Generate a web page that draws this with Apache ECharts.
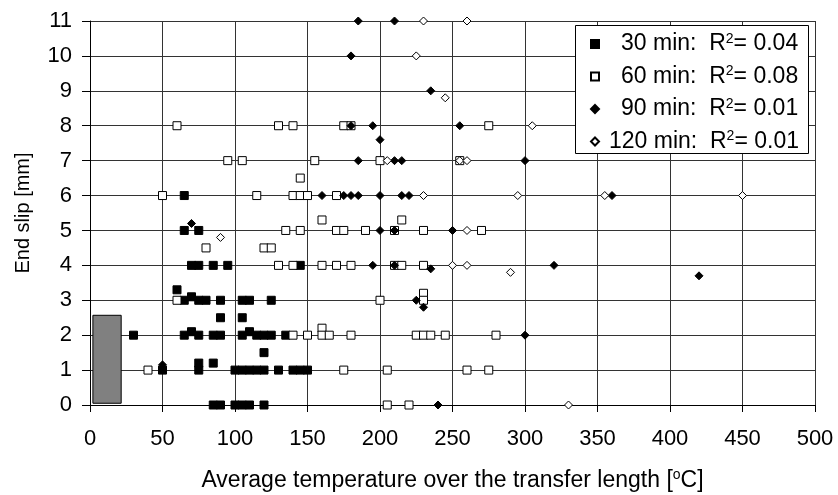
<!DOCTYPE html>
<html>
<head>
<meta charset="utf-8">
<script src="https://cdn.jsdelivr.net/npm/echarts@6/dist/echarts.min.js"></script>
<style>
  html, body { margin: 0; padding: 0; background: #fff; }
  #chart { width: 838px; height: 495px; }
</style>
</head>
<body>
<div id="chart"></div>
<script>
// Axis ranges and tick spacing
const xMin = 0, xMax = 500, xStep = 50;
const yMin = 0, yMax = 11, yStep = 1;

// Series labels and their coefficients of determination
const seriesNames = ['30 min', '60 min', '90 min', '120 min'];
const rSquared = ['0.04', '0.08', '0.01', '0.01'];

// End slip [mm] against average temperature [°C], one list per exposure time
const slip30 = [
  [60, 3.3], [65, 6], [65, 5], [75, 5],
  [70, 4], [75, 4], [85, 4], [95, 4], [145, 4],
  [65, 3], [70, 3.1], [75, 3], [80, 3], [90, 3], [105, 3], [110, 3], [125, 3],
  [90, 2.5], [105, 2.5],
  [30, 2], [65, 2], [70, 2.1], [75, 2], [85, 2], [90, 2], [105, 2], [110, 2.1],
  [115, 2], [120, 2], [125, 2], [135, 2],
  [120, 1.5], [75, 1.2], [85, 1.2],
  [50, 1], [75, 1], [100, 1], [105, 1], [110, 1], [115, 1], [120, 1], [130, 1],
  [140, 1], [145, 1], [150, 1],
  [85, 0], [90, 0], [100, 0], [105, 0], [110, 0], [120, 0]
];
const slip60 = [
  [60, 8], [130, 8], [140, 8], [175, 8], [180, 8], [275, 8],
  [95, 7], [105, 7], [155, 7], [200, 7], [255, 7],
  [145, 6.5],
  [50, 6], [115, 6], [140, 6], [145, 6], [150, 6], [170, 6],
  [160, 5.3], [215, 5.3],
  [135, 5], [145, 5], [170, 5], [175, 5], [190, 5], [210, 5], [230, 5], [270, 5],
  [80, 4.5], [120, 4.5], [125, 4.5],
  [130, 4], [140, 4], [160, 4], [170, 4], [180, 4], [210, 4], [215, 4], [230, 4],
  [230, 3.2], [60, 3], [200, 3], [230, 3],
  [160, 2.2],
  [140, 2], [150, 2], [160, 2], [165, 2], [180, 2], [225, 2], [230, 2], [235, 2],
  [245, 2], [280, 2],
  [40, 1], [175, 1], [205, 1], [260, 1], [275, 1],
  [205, 0], [220, 0]
];
const slip90 = [
  [185, 11], [210, 11], [180, 10], [235, 9],
  [180, 8], [195, 8], [255, 8], [200, 7.6],
  [185, 7], [210, 7], [215, 7], [300, 7],
  [160, 6], [175, 6], [180, 6], [185, 6], [200, 6], [215, 6], [220, 6], [360, 6],
  [70, 5.2], [200, 5], [210, 5], [250, 5],
  [195, 4], [210, 4], [320, 4], [235, 3.9], [420, 3.7],
  [225, 3], [230, 2.8], [300, 2], [50, 1.15], [240, 0]
];
const slip120 = [
  [230, 11], [260, 11], [225, 10], [245, 8.8], [305, 8],
  [205, 7], [255, 7], [260, 7],
  [230, 6], [295, 6], [355, 6], [450, 6],
  [260, 5], [90, 4.8], [250, 4], [260, 4], [290, 3.8], [330, 0]
];

// Grey reference block: [x from, x to, slip from, slip to]
const referenceBlock = [[2, 21.5, 0.05, 2.57]];

const FONT = 'Liberation Sans, Arial, sans-serif';

const markerStyles = [
  { symbol: 'rect', size: 8, fill: '#000' },
  { symbol: 'rect', size: 8, fill: '#fff' },
  { symbol: 'diamond', size: 8, fill: '#000' },
  { symbol: 'diamond', size: 8, fill: '#fff' }
];
const seriesData = [slip30, slip60, slip90, slip120];

const chart = echarts.init(document.getElementById('chart'), null, { renderer: 'canvas' });

const scatterSeries = seriesNames.map((name, i) => ({
  name: name,
  type: 'scatter',
  data: seriesData[i],
  symbol: markerStyles[i].symbol,
  symbolSize: markerStyles[i].size,
  itemStyle: { color: markerStyles[i].fill, borderColor: '#000', borderWidth: 1, opacity: 1 },
  emphasis: { disabled: true },
  z: 3 + i
}));

const option = {
  animation: false,
  backgroundColor: '#fff',
  textStyle: { fontFamily: FONT },
  grid: { left: 90, right: 23, top: 21, bottom: 90, containLabel: false, outerBoundsMode: 'none' },
  graphic: [{
    type: 'rect',
    shape: { x: 575.5, y: 25.5, width: 233, height: 128 },
    style: { fill: '#fff', stroke: '#000', lineWidth: 1 },
    z: 10
  }],
  legend: {
    data: seriesNames,
    orient: 'vertical',
    left: 590,
    top: 32,
    padding: 0,
    itemGap: 9,
    itemWidth: 8,
    itemHeight: 8,
    z: 20,
    selectedMode: false,
    formatter: name => {
      const i = seriesNames.indexOf(name);
      // shorter names are pushed right so the text lines end flush
      const lead = name.length < 7 ? 'w' : 'n';
      return '{' + lead + '|' + name + ':  R}{s|2}{t|= ' + rSquared[i] + '}';
    },
    textStyle: {
      fontFamily: FONT,
      color: '#000',
      rich: {
        w: { fontFamily: FONT, fontSize: 23, lineHeight: 24, color: '#000', padding: [0, 0, 0, 17] },
        n: { fontFamily: FONT, fontSize: 23, lineHeight: 24, color: '#000', padding: [0, 0, 0, 5] },
        t: { fontFamily: FONT, fontSize: 23, lineHeight: 24, color: '#000' },
        s: { fontFamily: FONT, fontSize: 14, lineHeight: 24, verticalAlign: 'top', color: '#000' }
      }
    }
  },
  xAxis: {
    type: 'value',
    min: xMin, max: xMax, interval: xStep,
    name: 'Average temperature over the transfer length [{s|o}C]',
    nameLocation: 'middle',
    nameGap: 63,
    nameTextStyle: {
      fontFamily: FONT, fontSize: 23, color: '#000', lineHeight: 26,
      rich: { s: { fontFamily: FONT, fontSize: 14, verticalAlign: 'top', lineHeight: 26, color: '#000' } }
    },
    axisLine: { show: true, onZero: false, lineStyle: { color: '#000', width: 1 } },
    axisTick: { show: true, inside: false, length: 7, lineStyle: { color: '#000' } },
    axisLabel: { fontFamily: FONT, fontSize: 22, color: '#000', margin: 23 },
    splitLine: { show: true, lineStyle: { color: '#333', width: 1 } }
  },
  yAxis: {
    type: 'value',
    min: yMin, max: yMax, interval: yStep,
    name: 'End slip [mm]',
    nameLocation: 'middle',
    nameGap: 57,
    nameTextStyle: { fontFamily: FONT, fontSize: 20, color: '#000' },
    axisLine: { show: true, onZero: false, lineStyle: { color: '#000', width: 1 } },
    axisTick: { show: true, inside: false, length: 8, lineStyle: { color: '#000' } },
    axisLabel: { fontFamily: FONT, fontSize: 22, color: '#000', margin: 18 },
    splitLine: { show: true, lineStyle: { color: '#333', width: 1 } }
  },
  series: [
    {
      type: 'custom',
      name: 'reference',
      data: referenceBlock,
      encode: { x: [0, 1], y: [2, 3] },
      z: 2,
      silent: true,
      renderItem: (params, api) => {
        const p0 = api.coord([api.value(0), api.value(2)]);
        const p1 = api.coord([api.value(1), api.value(3)]);
        return {
          type: 'rect',
          shape: { x: p0[0], y: p1[1], width: p1[0] - p0[0], height: p0[1] - p1[1] },
          style: { fill: '#808080', stroke: '#000', lineWidth: 1 }
        };
      }
    },
    ...scatterSeries
  ]
};

chart.setOption(option);
</script>
</body>
</html>
